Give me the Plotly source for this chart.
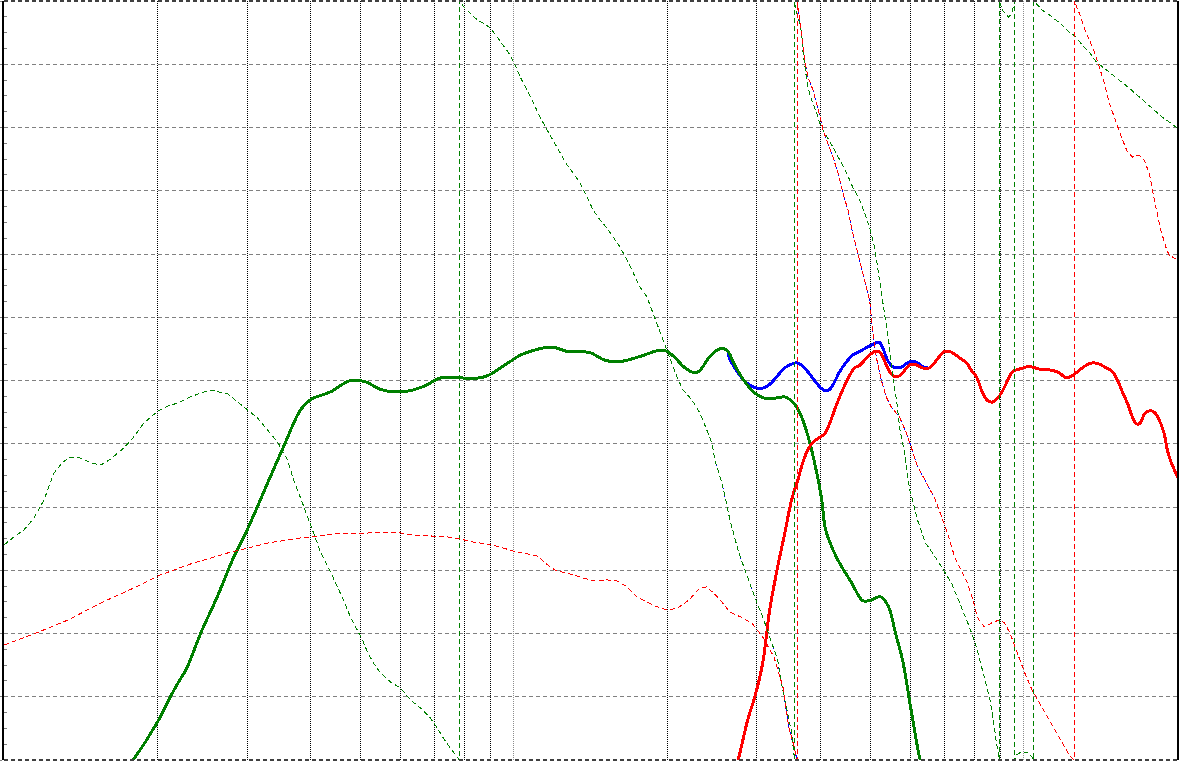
import math
import plotly.graph_objects as go

# ---------------- axis grid (frequency in Hz) ----------------
decade_lines = [1000, 10000]
minor_lines = [200, 300, 400, 500, 600, 700, 800, 900,
               2000, 3000, 4000, 5000, 6000, 7000, 8000, 9000]

# ---------------- magnitude (dB) ----------------
woofer_mag_f = [176, 180, 200, 212, 221, 228, 243, 262, 282, 300,
                329, 353, 382, 400, 437, 478, 512, 547, 586, 627,
                671, 718, 785, 852, 891, 941, 984, 1029, 1077, 1152,
                1205, 1272, 1411, 1510, 1616, 1768, 1935, 2000, 2071, 2167,
                2267, 2319, 2425, 2537, 2618, 2714, 2840, 2971, 3108, 3251,
                3400, 3478, 3589, 3688, 3807, 3929, 4018, 4091, 4299, 4601,
                4834, 4989, 5244, 5436, 5610, 5790, 6003, 6223, 6308]
woofer_mag_db = [-30.4, -29.9, -27.0, -25.0, -23.7, -22.8, -20.0, -17.1, -14.0, -11.8,
                 -8.1, -5.3, -2.3, -1.5, -0.9, 0.0, -0.1, -0.7, -0.9, -0.8,
                 -0.4, 0.2, 0.2, 0.2, 0.4, 1.0, 1.5, 2.0, 2.3, 2.6,
                 2.6, 2.3, 2.2, 1.6, 1.5, 1.9, 2.4, 2.3, 1.8, 1.0,
                 0.6, 0.8, 1.9, 2.5, 2.4, 1.2, -0.1, -1.0, -1.4, -1.4,
                 -1.3, -1.5, -2.1, -3.1, -4.9, -7.3, -9.4, -11.8, -14.0, -16.0,
                 -17.4, -17.4, -17.1, -17.9, -20.0, -22.1, -25.8, -29.4, -30.4]

tweeter_mag_f = [2726, 2763, 2878, 2971, 3080, 3178, 3295, 3400, 3509, 3606,
                 3688, 3772, 3858, 3982, 4073, 4166, 4261, 4358, 4457, 4559,
                 4662, 4769, 4877, 4989, 5102, 5195, 5291, 5411, 5535, 5660,
                 5790, 5922, 6057, 6194, 6335, 6538, 6688, 6840, 6996, 7155,
                 7319, 7485, 7727, 7903, 8083,
                 8318, 8507, 8699, 8897, 9100, 9309, 9521, 9813, 10270, 10740,
                 11400, 11750, 12140, 12480, 12860, 13260, 13660, 14080, 14510, 14950,
                 15290, 15630, 15990, 16360, 16610, 16910, 17240, 17640, 18040, 18450,
                 18870, 19150, 19450, 19890, 20300]
tweeter_mag_db = [-30.6, -29.8, -26.8, -25.0, -22.3, -18.1, -14.7, -12.1, -9.4, -7.9,
                  -6.5, -5.5, -4.9, -4.5, -4.2, -3.4, -2.3, -1.3, -0.4, 0.4,
                  1.0, 1.2, 1.6, 2.0, 2.3, 2.3, 1.9, 1.0, 0.4, 0.3,
                  0.6, 1.1, 1.3, 1.2, 1.0, 1.0, 1.4, 1.9, 2.3, 2.3,
                  2.1, 1.8, 1.4, 0.8, 0.3,
                  -1.0, -1.6, -1.7, -1.4, -0.8, 0.0, 0.7, 0.9, 1.1, 0.9,
                  0.8, 0.6, 0.2, 0.4, 0.8, 1.2, 1.4, 1.3, 1.0, 0.7,
                  0.0, -0.9, -1.8, -2.9, -3.4, -3.4, -2.7, -2.4, -2.5, -3.1,
                  -4.2, -5.5, -6.4, -7.3, -8.0]

# summed response in the crossover region (elsewhere it equals one driver)
sum_mid_f = [2653, 2714, 2776, 2865, 2944,
             3080, 3178, 3280, 3400, 3509, 3589, 3671, 3754, 3858, 3982,
             4073, 4166, 4261, 4358, 4498, 4621, 4769, 4921, 5033, 5149,
             5220, 5291, 5411, 5535, 5660, 5790, 5922, 6057, 6194, 6335,
             6538, 6688]
sum_mid_db = [1.7, 1.0, 0.4, -0.2, -0.5,
              -0.6, -0.3, 0.3, 1.0, 1.3, 1.4, 1.2, 0.8, 0.2, -0.5,
              -0.8, -0.7, -0.1, 0.7, 1.5, 2.0, 2.3, 2.6, 2.8, 3.0,
              3.0, 2.6, 1.6, 1.1, 1.0, 1.1, 1.4, 1.5, 1.4, 1.1,
              1.0, 1.4]

# ---------------- phase (degrees, wrapped) ----------------
woofer_ph_f = [100, 104.6, 109.4, 114.5, 119.8, 125.3, 130.5, 135.3, 141.5, 148.0,
               154.9, 162.0, 171.8, 179.7, 188.0, 200.3, 209.6, 219.2, 229.3, 243.2,
               254.4, 274.7, 287.3, 300.6, 314.4, 328.9, 344.1, 360.0, 369.9, 381.7,
               394.0, 404.8, 417.8, 437.0, 451.1, 463.4, 478.3, 493.6, 504.9, 516.4,
               530.6, 547.6, 572.8, 599.2, 626.9, 655.8, 686.0, 708.0, 727.4, 750.8,
               774.8, 781.9,
               781.9, 792.5, 821.6, 848.0, 871.2, 899.2, 928.0, 953.5, 983.9, 1006,
               1029, 1062, 1091, 1126, 1163, 1194, 1233, 1272, 1307, 1349,
               1392, 1431, 1476, 1524, 1566, 1616, 1668, 1713, 1768, 1825,
               1875, 1935, 1980, 2025, 2090, 2147, 2236, 2318, 2350, 2392,
               2447, 2480, 2514, 2560, 2606, 2654, 2764, 2852, 2970, 3079,
               3207, 3295, 3340, 3400, 3462, 3510, 3525, 3555,
               3555, 3573, 3638, 3671, 3688, 3721, 3772, 3841, 3928, 3982,
               4073, 4226, 4358, 4498, 4621, 4769, 4877, 4989, 5102, 5291,
               5386, 5459, 5535, 5634, 5711, 5841, 5922, 6001, 6057, 6194,
               6424, 6630, 6966, 7222, 7453, 7831, 8083, 8380, 8571, 8727,
               8846, 8926, 8964,
               8964, 9089, 9254, 9338, 9465, 9550, 9615,
               9615, 9637, 9813, 9991, 10219, 10405, 10475,
               10475, 10546, 10885, 11235, 11595, 11912, 12294, 12689, 13037, 13455,
               13887, 14926, 16117, 17400, 18700, 19920, 20400]
woofer_ph_deg = [-78.0, -74.2, -70.9, -65.2, -56.7, -43.9, -38.7, -36.3, -36.8, -39.1,
                 -40.1, -37.2, -32.0, -26.8, -20.2, -14.5, -12.1, -10.7, -8.3, -5.9,
                 -4.5, -6.4, -10.2, -14.0, -17.8, -23.5, -29.2, -37.7, -47.2, -55.7,
                 -64.7, -72.3, -81.3, -90.8, -97.9, -104.1, -112.2, -118.3, -123.1, -128.8,
                 -134.0, -138.7, -143.0, -145.8, -151.5, -155.3, -160.1, -164.8, -169.6, -174.3,
                 -178.6, -180,
                 180, 178.1, 174.3, 171.0, 169.6, 167.2, 162.9, 159.1, 154.4, 149.6,
                 144.0, 137.8, 131.6, 125.0, 118.8, 114.1, 107.9, 102.2, 98.4, 93.7,
                 87.0, 80.9, 76.1, 72.3, 68.1, 63.3, 57.2, 51.0, 44.4, 39.6,
                 32.0, 22.5, 15.9, 9.7, 1.7, -4.5, -9.2, -15.4, -18.7, -23.5,
                 -29.6, -37.7, -42.4, -48.6, -56.7, -66.0, -81.8, -91.3, -102.7, -112.2,
                 -124.5, -132.6, -142.1, -151.5, -161.0, -167.2, -171.9, -180,
                 180, 175.7, 169.6, 164.8, 156.8, 148.7, 139.2, 133.0, 126.9, 122.1,
                 117.4, 110.8, 104.6, 98.4, 91.8, 85.6, 79.4, 72.8, 63.3, 38.2,
                 25.4, 15.9, 1.7, -9.2, -22.1, -34.4, -45.8, -53.4, -56.7, -66.2,
                 -77.1, -81.8, -89.9, -96.1, -104.1, -116.9, -126.4, -140.6, -150.1, -161.0,
                 -171.9, -176.2, -180,
                 180, 175.7, 173.4, 172.4, 173.8, 176.7, 180,
                 -180, -178.1, -176.7, -176.2, -176.7, -178.6, -180,
                 180, 179.1, 175.7, 173.4, 171.0, 168.6, 165.3, 162.9, 159.1, 155.8,
                 151.1, 144.9, 138.7, 131.6, 125.0, 120.2, 119.3]

tweeter_ph_f = [100, 114.5, 133.5, 154.9, 179.7, 200.3, 232.5, 274.7, 328.9, 381.7,
                443.0, 523.4, 599.2, 635.4, 695.3, 740.7, 785.4, 832.8, 887.4, 940.6,
                997.3, 1062, 1111, 1142, 1179, 1216, 1272, 1349, 1431, 1524,
                1594, 1660, 1745, 1892, 1997, 2099, 2206, 2318, 2392, 2525,
                2654, 2789, 2930, 3079, 3239, 3373, 3462, 3541, 3597,
                3597, 3610, 3638, 3667, 3721, 3777, 3863, 3923, 3982, 4042,
                4134, 4228, 4325, 4423, 4524, 4594, 4699, 4841, 4989, 5027, 5064,
                5142, 5259, 5379, 5502, 5711, 5889, 6020, 6157, 6298, 6490,
                6689, 6910, 7089, 7326, 7574, 7764, 7962, 8110, 8372, 8656,
                8950, 9175, 9406, 9725, 10054, 10395, 10748, 11114, 11491, 11885,
                12283, 12574,
                12574, 12671, 12860, 13260, 13660, 14080, 14399, 14727, 15060, 15406,
                15637, 15990, 16360, 16860, 17240, 17640, 17897, 18174, 18588, 19012,
                19300, 20010, 20400]
tweeter_ph_deg = [-125.5, -120.2, -113.6, -105.5, -98.4, -92.7, -87.0, -81.8, -77.1, -74.7,
                  -72.8, -72.3, -72.3, -73.3, -73.8, -74.2, -75.2, -76.6, -77.6, -79.0,
                  -80.9, -82.3, -83.2, -85.6, -88.5, -90.4, -91.3, -93.2, -95.1, -94.6,
                  -95.1, -97.5, -102.7, -107.0, -108.9, -107.9, -104.1, -98.4, -97.9, -103.2,
                  -109.8, -112.2, -115.0, -121.7, -131.1, -145.4, -164.3, -172.9, -180,
                  180, 177.2, 171.0, 162.9, 152.0, 144.0, 137.8, 131.6, 125.9, 118.8,
                  112.6, 106.0, 98.4, 88.9, 80.9, 72.8, 63.3, 51.5, 38.2, 30.1, 22.5,
                  11.1, 0.2, -7.8, -12.6, -17.3, -24.9, -31.5, -39.1, -43.9, -49.6,
                  -55.7, -64.7, -72.3, -83.7, -91.3, -96.1, -104.1, -112.2, -116.9, -115.0,
                  -113.6, -115.0, -119.8, -129.2, -138.7, -146.8, -153.0, -159.6, -165.8, -171.9,
                  -177.6, -180,
                  180, 178.1, 174.3, 164.8, 158.2, 148.7, 141.1, 131.6, 125.0, 118.8,
                  114.1, 108.4, 106.0, 107.0, 104.6, 98.4, 90.4, 82.3, 71.4, 63.3,
                  59.5, 57.2, 56.2]

# summed response: woofer below the crossover band, tweeter above it
sum_mag_f = [f for f in woofer_mag_f if f < sum_mid_f[0]] + sum_mid_f + \
            [f for f in tweeter_mag_f if f > sum_mid_f[-1]]
sum_mag_db = [v for f, v in zip(woofer_mag_f, woofer_mag_db) if f < sum_mid_f[0]] + sum_mid_db + \
             [v for f, v in zip(tweeter_mag_f, tweeter_mag_db) if f > sum_mid_f[-1]]

# summed phase: woofer phase, then tweeter phase (gap instead of a drawn wrap)
wrap_f = 3597
tw_idx = tweeter_ph_f.index(wrap_f)
sum_ph_f = [f for f in woofer_ph_f if 2390 <= f <= 3400] + \
           tweeter_ph_f[46:tw_idx + 1] + [None] + \
           [f for f in tweeter_ph_f[tw_idx + 1:] if f <= 6700]
sum_ph_deg = [p for f, p in zip(woofer_ph_f, woofer_ph_deg) if 2390 <= f <= 3400] + \
             tweeter_ph_deg[46:tw_idx + 1] + [None] + \
             [p for f, p in zip(tweeter_ph_f[tw_idx + 1:], tweeter_ph_deg[tw_idx + 1:]) if f <= 6700]

GREEN = "rgb(0,128,0)"
RED = "rgb(255,0,0)"
BLUE = "rgb(0,0,255)"
PH_DASH = "5px,3px"

fig = go.Figure()


def add(f, v, color, width, dash, yaxis, shape="linear"):
    fig.add_trace(go.Scatter(x=f, y=v, mode="lines", yaxis=yaxis, connectgaps=False,
                             line=dict(color=color, width=width, dash=dash, shape=shape),
                             hoverinfo="skip", showlegend=False))


# phase curves (thin, dashed) underneath
add(sum_ph_f, sum_ph_deg, BLUE, 1, PH_DASH, "y2")
add(woofer_ph_f, woofer_ph_deg, GREEN, 1, PH_DASH, "y2")
add(tweeter_ph_f, tweeter_ph_deg, RED, 1, PH_DASH, "y2")
# magnitude curves (thick)
add(sum_mag_f, sum_mag_db, BLUE, 3, "solid", "y", "spline")
add(woofer_mag_f, woofer_mag_db, GREEN, 3, "solid", "y", "spline")
add(tweeter_mag_f, tweeter_mag_db, RED, 3, "solid", "y", "spline")

fig.update_layout(
    width=1180, height=761,
    margin=dict(l=3, r=2, t=1, b=1, pad=0),
    paper_bgcolor="white", plot_bgcolor="white",
    showlegend=False,
    xaxis=dict(type="log", range=[2, math.log10(20000)],
               tickmode="array", tickvals=decade_lines,
               showgrid=True, gridcolor="#8c8c8c", griddash="1px,1px", gridwidth=1,
               showticklabels=False, ticks="", zeroline=False, showline=False,
               minor=dict(tickmode="array", tickvals=minor_lines, showgrid=True,
                          gridcolor="black", griddash="1px,1px", gridwidth=1, ticks="")),
    yaxis=dict(range=[-30, 30], tickmode="linear", tick0=0, dtick=5,
               showgrid=True, gridcolor="#808080", griddash="4px,3px", gridwidth=1,
               showticklabels=False, ticks="outside", ticklen=3, tickcolor="#808080",
               zeroline=False, showline=True, linecolor="black", linewidth=2, mirror=True,
               minor=dict(dtick=1.25, ticks="inside", ticklen=3, tickcolor="#808080",
                          showgrid=False)),
    yaxis2=dict(range=[-180, 180], overlaying="y", visible=False),
    shapes=[
        dict(type="line", xref="paper", yref="paper", x0=0, x1=1, y0=1, y1=1,
             line=dict(color="#404040", width=2, dash="4px,3px"), layer="above"),
        dict(type="line", xref="paper", yref="paper", x0=0, x1=1, y0=0, y1=0,
             line=dict(color="#404040", width=2, dash="4px,3px"), layer="above"),
    ],
)

post = (
    "document.body.style.margin='0';document.body.style.padding='0';"
    "document.querySelectorAll('svg path').forEach(function(p){"
    "p.style.shapeRendering='crispEdges';});"
)
fig.write_html("out.html", config={"displayModeBar": False}, post_script=post)
